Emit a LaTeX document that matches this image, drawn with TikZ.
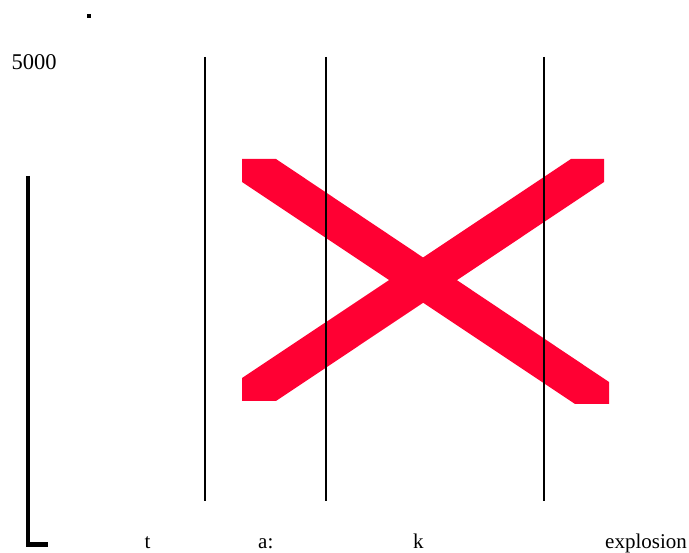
\documentclass[tikz,border=0pt]{standalone}
\usepackage{fontspec}
\setmainfont{Liberation Serif}
\definecolor{xred}{RGB}{255,0,51}
\tikzset{
  lbl/.style={anchor=base west, inner sep=0pt, font=\fontsize{21}{25}\selectfont},
  vline/.style={line width=1.5pt, black},
  band/.style={fill=xred, draw=none}
}
\begin{document}
\begin{tikzpicture}[x=1pt,y=-1pt]
\useasboundingbox (0,0) rectangle (689,553);
% small dot
\fill[black] (87,14) rectangle (91,18);
% label
\node[lbl, font=\fontsize{22.5}{27}\selectfont] (v5000) at (11.5,70) {5000};
% L-shaped bar
\draw[line width=4.5pt, miter limit=10] (28,176) -- (28,544.5) -- (48,544.5);
% red X
\fill[band] (242,159) -- (276,159) -- (609,382) -- (609,404) -- (575,404) -- (242,182) -- cycle;
\fill[band] (242,378) -- (571,159) -- (604,159) -- (604,182) -- (276,401) -- (242,401) -- cycle;
% vertical lines
\draw[vline] (205,57) -- (205,501);
\draw[vline] (326,57) -- (326,501);
\draw[vline] (544,57) -- (544,501);
% bottom labels
\node[lbl] (lt) at (144.5,548) {t};
\node[lbl] (la) at (258,548) {a:};
\node[lbl] (lk) at (413,548) {k};
\node[lbl] (lexp) at (605,548) {explosion};
\end{tikzpicture}
\end{document}
